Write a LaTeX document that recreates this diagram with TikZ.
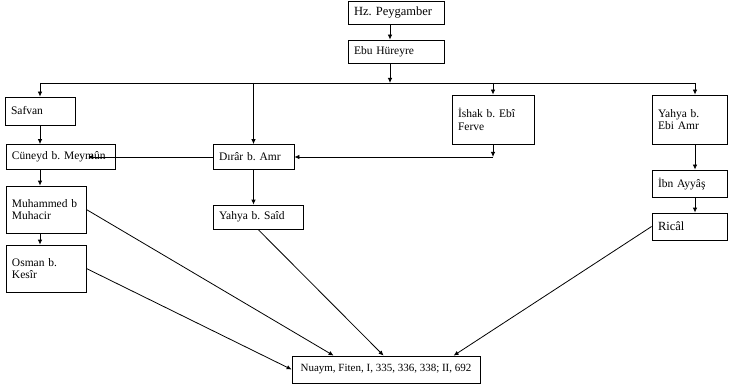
\documentclass[tikz,border=0pt]{standalone}
\usepackage{fontspec}
\setmainfont{Liberation Serif}
\usetikzlibrary{arrows.meta}
\frenchspacing
\tikzset{
  bx/.style={draw, line width=0.8pt, inner xsep=6pt, inner ysep=0pt, align=left,
    font=\fontsize{11.5}{12.5}\selectfont\frenchspacing, anchor=center},
  arr/.style={line width=0.8pt, -{Latex[length=5pt,width=4.5pt]}},
  ln/.style={line width=0.8pt}
}
\begin{document}
\begin{tikzpicture}[x=1pt,y=-1pt]
\useasboundingbox (0,0) rectangle (730,390);
% nodes
\node[bx, text width=84pt, minimum height=23pt, font=\fontsize{12.5}{13}\selectfont\frenchspacing] (hz) at (396,12.5) {Hz. Peygamber};
\node[bx, text width=84pt, minimum height=23pt] (ebu) at (396,51.5) {Ebu Hüreyre};
\node[bx, text width=58pt, minimum height=28pt] (safvan) at (40,111) {Safvan};
\node[bx, text width=97pt, minimum height=25pt] (cuneyd) at (60.5,157) {Cüneyd b.~Meymûn};
\node[bx, text width=68pt, minimum height=47pt] (muhammed) at (46,209.5) {Muhammed b\\Muhacir};
\node[bx, text width=68pt, minimum height=47pt] (osman) at (46,268.5) {Osman b.\\Kesîr};
\node[bx, text width=69pt, minimum height=25pt] (dirar) at (253.5,157) {Dırâr b. Amr};
\node[bx, text width=78pt, minimum height=24pt] (yahyasaid) at (258,217) {Yahya b. Saîd};
\node[bx, text width=70pt, minimum height=49pt] (ishak) at (493,119.5) {İshak b. Ebî\\Ferve};
\node[bx, text width=63pt, minimum height=49pt] (yahyaamr) at (689.5,119.5) {Yahya b.\\Ebi Amr};
\node[bx, text width=63pt, minimum height=27pt] (ibnayyas) at (689.5,183.5) {İbn Ayyâş};
\node[bx, text width=63pt, minimum height=27pt, font=\fontsize{12.5}{13}\selectfont] (rical) at (689.5,226.5) {Ricâl};
\node[bx, minimum width=188pt, minimum height=27pt, font=\fontsize{11}{12}\selectfont\frenchspacing] (nuaym) at (386,369.5) {Nuaym, Fiten, I, 335, 336, 338; II, 692};
% coordinates
\coordinate (busL) at (40,83);
\coordinate (busR) at (695,83);
\coordinate (corner) at (ishak.south |- dirar.east);
\coordinate (cuntip) at (88,157);
% connectors
\draw[arr] ([xshift=-6pt]hz.south) -- ([xshift=-6pt]ebu.north);
\draw[arr] ([xshift=-6pt]ebu.south) -- ([xshift=-6pt]ebu.south |- busL);
\draw[ln] (busL) -- (busR);
\draw[arr] (busL) -- (safvan.north);
\draw[arr] (dirar.north |- busL) -- (dirar.north);
\draw[arr] (ishak.north |- busL) -- (ishak.north);
\draw[arr] (busR) -- (busR |- yahyaamr.north);
\draw[arr] (yahyaamr.south -| busR) -- (ibnayyas.north -| busR);
\draw[arr] (ibnayyas.south -| busR) -- (rical.north -| busR);
\draw[arr] (safvan.south) -- (safvan.south |- cuneyd.north);
\draw[arr] (cuneyd.south -| safvan) -- (muhammed.north -| safvan);
\draw[arr] (muhammed.south -| safvan) -- (osman.north -| safvan);
\draw[arr] (dirar.south) -- (dirar.south |- yahyasaid.north);
\draw[arr] (ishak.south) -- (corner);
\draw[arr] (corner) -- (dirar.east);
\draw[arr] (dirar.west) -- (cuntip);
\draw[arr] (muhammed.east) -- ([xshift=42pt]nuaym.north west);
\draw[arr] (yahyasaid.south) -- ([xshift=92pt]nuaym.north west);
\draw[arr] (rical.west) -- ([xshift=162pt]nuaym.north west);
\draw[arr] (osman.east) -- (nuaym.west);
\end{tikzpicture}
\end{document}
